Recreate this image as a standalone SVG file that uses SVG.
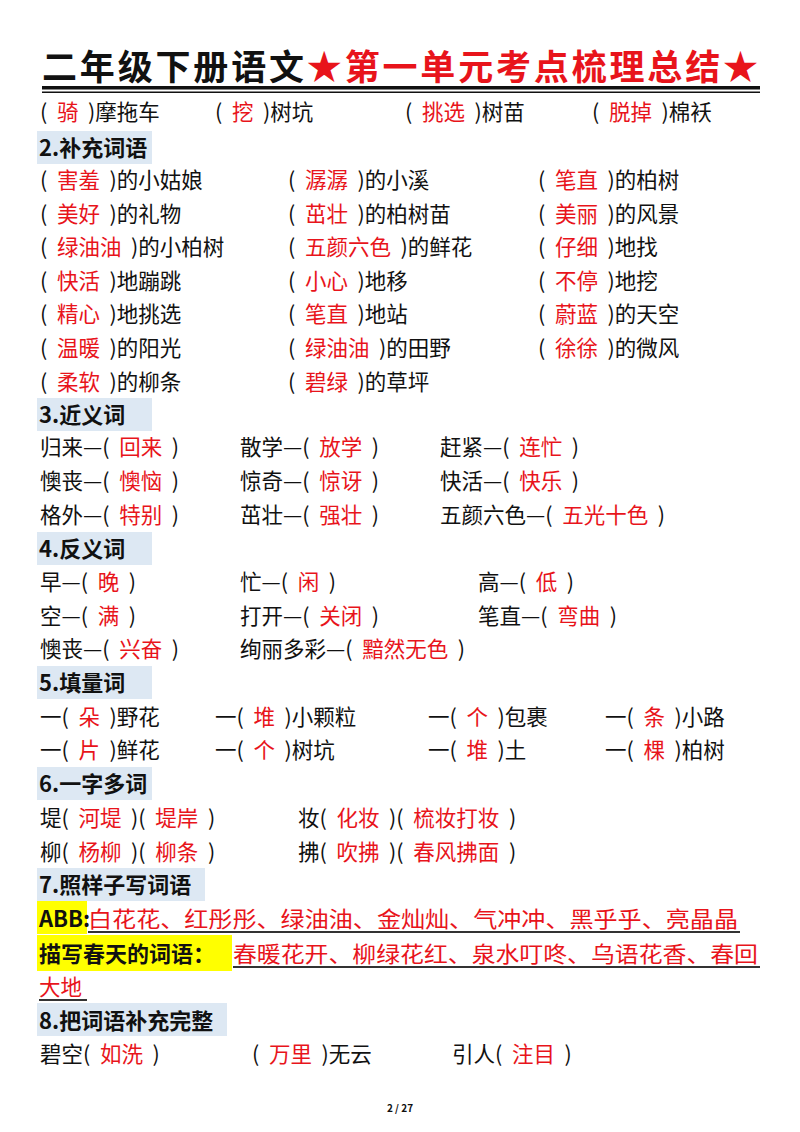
<svg xmlns="http://www.w3.org/2000/svg" width="800" height="1132" viewBox="0 0 800 1132">
<style>
text{font-family:"Noto Sans CJK SC","Liberation Sans",sans-serif;font-size:21.5px;fill:#111}
.r{fill:#e8141b}
.h{font-weight:bold;font-size:22px}
.hb{fill:#dde8f3}
.t{font-size:35px;font-weight:bold}
</style>
<rect width="800" height="1132" fill="#fff"/>
<g id="title">
<text x="42" y="80" class="t" textLength="716" lengthAdjust="spacing">二年级下册语文<tspan class="r">★第一单元考点梳理总结★</tspan></text>
<rect x="42" y="86" width="718" height="3.5" fill="#111"/>
<rect x="42" y="91.5" width="718" height="1.5" fill="#111"/>
</g>
<g id="s1">
<text x="40" y="120">(&#160;&#160;<tspan class="r">骑</tspan>&#160;&#160;)摩拖车</text>
<text x="215" y="120">(&#160;&#160;<tspan class="r">挖</tspan>&#160;&#160;)树坑</text>
<text x="405" y="120">(&#160;&#160;<tspan class="r">挑选</tspan>&#160;&#160;)树苗</text>
<text x="592" y="120">(&#160;&#160;<tspan class="r">脱掉</tspan>&#160;&#160;)棉袄</text>
</g>
<g id="s2">
<rect class="hb" x="37" y="131" width="115" height="33"/>
<text x="39" y="156" class="h">2.补充词语</text>
<text x="40" y="188">(&#160;&#160;<tspan class="r">害羞</tspan>&#160;&#160;)的小姑娘</text>
<text x="288" y="188">(&#160;&#160;<tspan class="r">潺潺</tspan>&#160;&#160;)的小溪</text>
<text x="538" y="188">(&#160;&#160;<tspan class="r">笔直</tspan>&#160;&#160;)的柏树</text>
<text x="40" y="222">(&#160;&#160;<tspan class="r">美好</tspan>&#160;&#160;)的礼物</text>
<text x="288" y="222">(&#160;&#160;<tspan class="r">茁壮</tspan>&#160;&#160;)的柏树苗</text>
<text x="538" y="222">(&#160;&#160;<tspan class="r">美丽</tspan>&#160;&#160;)的风景</text>
<text x="40" y="255">(&#160;&#160;<tspan class="r">绿油油</tspan>&#160;&#160;)的小柏树</text>
<text x="288" y="255">(&#160;&#160;<tspan class="r">五颜六色</tspan>&#160;&#160;)的鲜花</text>
<text x="538" y="255">(&#160;&#160;<tspan class="r">仔细</tspan>&#160;&#160;)地找</text>
<text x="40" y="289">(&#160;&#160;<tspan class="r">快活</tspan>&#160;&#160;)地蹦跳</text>
<text x="288" y="289">(&#160;&#160;<tspan class="r">小心</tspan>&#160;&#160;)地移</text>
<text x="538" y="289">(&#160;&#160;<tspan class="r">不停</tspan>&#160;&#160;)地挖</text>
<text x="40" y="322">(&#160;&#160;<tspan class="r">精心</tspan>&#160;&#160;)地挑选</text>
<text x="288" y="322">(&#160;&#160;<tspan class="r">笔直</tspan>&#160;&#160;)地站</text>
<text x="538" y="322">(&#160;&#160;<tspan class="r">蔚蓝</tspan>&#160;&#160;)的天空</text>
<text x="40" y="356">(&#160;&#160;<tspan class="r">温暖</tspan>&#160;&#160;)的阳光</text>
<text x="288" y="356">(&#160;&#160;<tspan class="r">绿油油</tspan>&#160;&#160;)的田野</text>
<text x="538" y="356">(&#160;&#160;<tspan class="r">徐徐</tspan>&#160;&#160;)的微风</text>
<text x="40" y="390">(&#160;&#160;<tspan class="r">柔软</tspan>&#160;&#160;)的柳条</text>
<text x="288" y="390">(&#160;&#160;<tspan class="r">碧绿</tspan>&#160;&#160;)的草坪</text>
</g>
<g id="s3">
<rect class="hb" x="37" y="398" width="115" height="33"/>
<text x="39" y="423" class="h">3.近义词</text>
<text x="40" y="455">归来—(&#160;&#160;<tspan class="r">回来</tspan>&#160;&#160;)</text>
<text x="240" y="455">散学—(&#160;&#160;<tspan class="r">放学</tspan>&#160;&#160;)</text>
<text x="440" y="455">赶紧—(&#160;&#160;<tspan class="r">连忙</tspan>&#160;&#160;)</text>
<text x="40" y="489">懊丧—(&#160;&#160;<tspan class="r">懊恼</tspan>&#160;&#160;)</text>
<text x="240" y="489">惊奇—(&#160;&#160;<tspan class="r">惊讶</tspan>&#160;&#160;)</text>
<text x="440" y="489">快活—(&#160;&#160;<tspan class="r">快乐</tspan>&#160;&#160;)</text>
<text x="40" y="523">格外—(&#160;&#160;<tspan class="r">特别</tspan>&#160;&#160;)</text>
<text x="240" y="523">茁壮—(&#160;&#160;<tspan class="r">强壮</tspan>&#160;&#160;)</text>
<text x="440" y="523">五颜六色—(&#160;&#160;<tspan class="r">五光十色</tspan>&#160;&#160;)</text>
</g>
<g id="s4">
<rect class="hb" x="37" y="532" width="115" height="33"/>
<text x="39" y="557" class="h">4.反义词</text>
<text x="40" y="590">早—(&#160;&#160;<tspan class="r">晚</tspan>&#160;&#160;)</text>
<text x="240" y="590">忙—(&#160;&#160;<tspan class="r">闲</tspan>&#160;&#160;)</text>
<text x="478" y="590">高—(&#160;&#160;<tspan class="r">低</tspan>&#160;&#160;)</text>
<text x="40" y="624">空—(&#160;&#160;<tspan class="r">满</tspan>&#160;&#160;)</text>
<text x="240" y="624">打开—(&#160;&#160;<tspan class="r">关闭</tspan>&#160;&#160;)</text>
<text x="478" y="624">笔直—(&#160;&#160;<tspan class="r">弯曲</tspan>&#160;&#160;)</text>
<text x="40" y="657">懊丧—(&#160;&#160;<tspan class="r">兴奋</tspan>&#160;&#160;)</text>
<text x="240" y="657">绚丽多彩—(&#160;&#160;<tspan class="r">黯然无色</tspan>&#160;&#160;)</text>
</g>
<g id="s5">
<rect class="hb" x="37" y="666" width="115" height="33"/>
<text x="39" y="691" class="h">5.填量词</text>
<text x="40" y="725">一(&#160;&#160;<tspan class="r">朵</tspan>&#160;&#160;)野花</text>
<text x="215" y="725">一(&#160;&#160;<tspan class="r">堆</tspan>&#160;&#160;)小颗粒</text>
<text x="428" y="725">一(&#160;&#160;<tspan class="r">个</tspan>&#160;&#160;)包裹</text>
<text x="605" y="725">一(&#160;&#160;<tspan class="r">条</tspan>&#160;&#160;)小路</text>
<text x="40" y="758">一(&#160;&#160;<tspan class="r">片</tspan>&#160;&#160;)鲜花</text>
<text x="215" y="758">一(&#160;&#160;<tspan class="r">个</tspan>&#160;&#160;)树坑</text>
<text x="428" y="758">一(&#160;&#160;<tspan class="r">堆</tspan>&#160;&#160;)土</text>
<text x="605" y="758">一(&#160;&#160;<tspan class="r">棵</tspan>&#160;&#160;)柏树</text>
</g>
<g id="s6">
<rect class="hb" x="37" y="767" width="115" height="33"/>
<text x="39" y="792" class="h">6.一字多词</text>
<text x="40" y="826">堤(&#160;&#160;<tspan class="r">河堤</tspan>&#160;&#160;)(&#160;&#160;<tspan class="r">堤岸</tspan>&#160;&#160;)</text>
<text x="298" y="826">妆(&#160;&#160;<tspan class="r">化妆</tspan>&#160;&#160;)(&#160;&#160;<tspan class="r">梳妆打妆</tspan>&#160;&#160;)</text>
<text x="40" y="860">柳(&#160;&#160;<tspan class="r">杨柳</tspan>&#160;&#160;)(&#160;&#160;<tspan class="r">柳条</tspan>&#160;&#160;)</text>
<text x="298" y="860">拂(&#160;&#160;<tspan class="r">吹拂</tspan>&#160;&#160;)(&#160;&#160;<tspan class="r">春风拂面</tspan>&#160;&#160;)</text>
</g>
<g id="s7">
<rect class="hb" x="37" y="868" width="168" height="33"/>
<text x="39" y="893" class="h">7.照样子写词语</text>
<rect x="37" y="901" width="50" height="33" fill="#ffff00"/>
<text x="39" y="927" class="h">ABB:</text>
<text x="88" y="927" class="r" textLength="650" lengthAdjust="spacingAndGlyphs">白花花、红彤彤、绿油油、金灿灿、气冲冲、黑乎乎、亮晶晶</text>
<rect x="88" y="931" width="652" height="2" fill="#333"/>
<rect x="37" y="935" width="195" height="36" fill="#ffff00"/>
<text x="39" y="962" class="h">描写春天的词语：</text>
<text x="233" y="962" class="r" textLength="525" lengthAdjust="spacingAndGlyphs">春暖花开、柳绿花红、泉水叮咚、乌语花香、春回</text>
<rect x="233" y="966" width="527" height="2" fill="#333"/>
<text x="39" y="995" class="r">大地</text>
<rect x="39" y="999" width="48" height="2" fill="#333"/>
</g>
<g id="s8">
<rect class="hb" x="37" y="1003" width="190" height="33"/>
<text x="39" y="1029" class="h">8.把词语补充完整</text>
<text x="40" y="1062">碧空(&#160;&#160;<tspan class="r">如洗</tspan>&#160;&#160;)</text>
<text x="252" y="1062">(&#160;&#160;<tspan class="r">万里</tspan>&#160;&#160;)无云</text>
<text x="452" y="1062">引人(&#160;&#160;<tspan class="r">注目</tspan>&#160;&#160;)</text>
</g>
<text x="400" y="1112" text-anchor="middle" style="font-size:10px;font-weight:bold">2 / 27</text>
</svg>
